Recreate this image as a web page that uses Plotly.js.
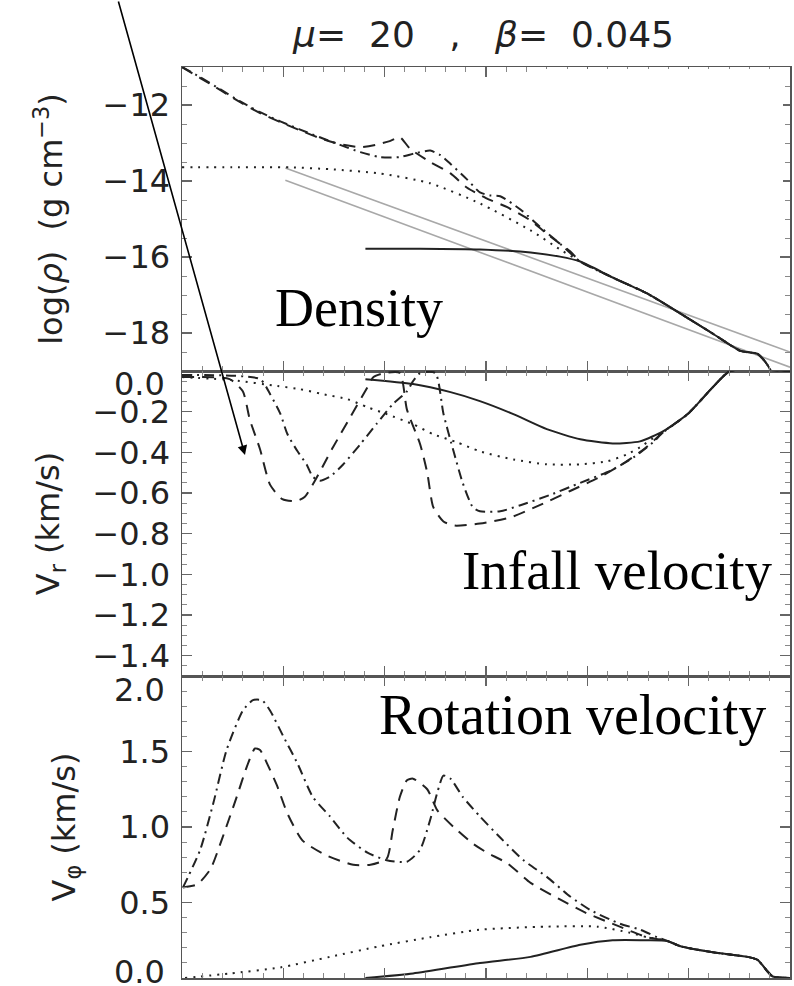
<!DOCTYPE html>
<html>
<head>
<meta charset="utf-8">
<script src="https://cdn.plot.ly/plotly-3.0.1.min.js"></script>
<style>html,body{margin:0;padding:0;background:#fff;}</style>
</head>
<body>
<div id="chart" style="width:794px;height:986px;"></div>
<script>
// ---- Panel 1: density log(rho) ----
const rhoDashX = [0, 0.18, 0.38, 0.57, 0.77, 0.97, 1.16, 1.36, 1.56, 1.76, 1.91, 2.05, 2.15, 2.25, 2.45, 2.65, 2.81, 3.00, 3.21, 3.44, 3.63, 3.83, 3.93, 4.25, 4.59, 4.92, 5.24, 5.51, 5.68, 5.77, 5.82];
const rhoDashY = [-11.0, -11.29, -11.61, -11.92, -12.21, -12.45, -12.66, -12.87, -13.03, -13.11, -13.05, -12.95, -12.85, -13.15, -13.50, -13.80, -14.17, -14.45, -14.69, -15.04, -15.45, -15.85, -16.12, -16.54, -16.96, -17.49, -18.02, -18.47, -18.55, -18.81, -19.05];
const rhoDashDotX = [0, 0.18, 0.38, 0.57, 0.77, 0.97, 1.16, 1.36, 1.56, 1.76, 1.95, 2.15, 2.30, 2.45, 2.55, 2.65, 2.81, 2.94, 3.04, 3.14, 3.34, 3.53, 3.73, 3.93, 4.25, 4.59, 4.92, 5.24, 5.51, 5.68, 5.77, 5.82];
const rhoDashDotY = [-11.0, -11.27, -11.59, -11.90, -12.19, -12.43, -12.64, -12.85, -13.05, -13.24, -13.37, -13.37, -13.27, -13.20, -13.32, -13.55, -13.95, -14.30, -14.38, -14.40, -14.75, -15.20, -15.65, -16.12, -16.54, -16.96, -17.49, -18.02, -18.47, -18.55, -18.81, -19.05];
const rhoDotX = [0, 0.5, 1.07, 1.46, 1.95, 2.45, 2.94, 3.44, 3.73, 3.93, 4.25, 4.59, 4.92, 5.24, 5.51, 5.68, 5.77, 5.82];
const rhoDotY = [-13.64, -13.64, -13.64, -13.69, -13.80, -14.06, -14.59, -15.30, -15.80, -16.12, -16.54, -16.96, -17.49, -18.02, -18.47, -18.55, -18.81, -19.05];
const rhoSolidX = [1.81, 2.35, 2.94, 3.44, 3.73, 3.93, 4.25, 4.59, 4.92, 5.24, 5.51, 5.68, 5.77, 5.82];
const rhoSolidY = [-15.78, -15.78, -15.80, -15.88, -15.99, -16.12, -16.54, -16.96, -17.49, -18.02, -18.47, -18.55, -18.81, -19.05];
const plUpperX = [1.02, 6.0];
const plUpperY = [-13.66, -18.50];
const plLowerX = [1.02, 6.0];
const plLowerY = [-13.98, -18.90];

// ---- Panel 2: infall velocity V_r ----
const vrDashX = [0, 0.47, 0.60, 0.67, 0.77, 0.87, 0.99, 1.12, 1.21, 1.49, 1.66, 1.83, 1.89, 2.00, 2.15, 2.22, 2.35, 2.42, 2.48, 2.58, 2.69, 2.94, 3.24, 3.53, 3.83, 4.13, 4.37, 4.57, 4.75, 4.99, 5.24, 5.41, 6.0];
const vrDashY = [-0.03, -0.04, -0.10, -0.24, -0.385, -0.56, -0.63, -0.64, -0.62, -0.375, -0.227, -0.08, -0.03, -0.01, -0.01, -0.19, -0.36, -0.50, -0.67, -0.74, -0.76, -0.75, -0.72, -0.66, -0.59, -0.52, -0.45, -0.38, -0.30, -0.212, -0.079, 0, 0];
const vrDashDotX = [0, 0.77, 0.87, 0.97, 1.04, 1.14, 1.23, 1.29, 1.36, 1.46, 1.59, 1.76, 1.92, 2.08, 2.22, 2.28, 2.35, 2.50, 2.58, 2.68, 2.77, 2.87, 2.94, 3.14, 3.34, 3.63, 3.93, 4.23, 4.47, 4.65, 4.75, 4.99, 5.24, 5.41, 6.0];
const vrDashDotY = [-0.02, -0.04, -0.114, -0.21, -0.31, -0.395, -0.46, -0.52, -0.54, -0.52, -0.46, -0.36, -0.26, -0.163, -0.10, -0.05, -0.01, -0.01, -0.21, -0.395, -0.55, -0.67, -0.69, -0.69, -0.66, -0.61, -0.55, -0.49, -0.42, -0.35, -0.30, -0.212, -0.079, 0, 0];
const vrDotX = [0, 0.5, 0.94, 1.16, 1.39, 1.63, 1.83, 2.02, 2.28, 2.48, 2.71, 2.94, 3.27, 3.60, 3.93, 4.20, 4.39, 4.52, 4.65, 4.75, 4.99, 5.24, 5.41, 6.0];
const vrDotY = [-0.03, -0.045, -0.074, -0.089, -0.114, -0.138, -0.178, -0.212, -0.262, -0.311, -0.35, -0.395, -0.435, -0.459, -0.459, -0.444, -0.41, -0.375, -0.33, -0.30, -0.212, -0.079, 0, 0];
const vrSolidX = [1.81, 2.28, 2.65, 2.94, 3.27, 3.60, 3.93, 4.25, 4.52, 4.75, 4.99, 5.24, 5.41, 6.0];
const vrSolidY = [-0.04, -0.064, -0.104, -0.148, -0.212, -0.286, -0.336, -0.356, -0.346, -0.296, -0.212, -0.079, 0, 0];

// ---- Panel 3: rotation velocity V_phi ----
const vpDashDotX = [0.01, 0.18, 0.31, 0.44, 0.60, 0.70, 0.79, 0.87, 1.00, 1.14, 1.29, 1.46, 1.63, 1.83, 2.02, 2.22, 2.35, 2.45, 2.52, 2.58, 2.65, 2.77, 2.94, 3.14, 3.37, 3.60, 3.83, 4.03, 4.32, 4.52, 4.69, 4.79, 4.92, 5.24, 5.58, 5.68, 5.77, 5.83, 6.0];
const vpDashDotY = [0.60, 0.85, 1.16, 1.51, 1.77, 1.84, 1.84, 1.77, 1.60, 1.42, 1.20, 1.07, 0.93, 0.83, 0.78, 0.77, 0.85, 1.05, 1.23, 1.34, 1.32, 1.20, 1.07, 0.93, 0.78, 0.67, 0.54, 0.45, 0.36, 0.32, 0.27, 0.245, 0.21, 0.17, 0.14, 0.12, 0.05, 0.01, 0.0];
const vpDashX = [0.01, 0.15, 0.28, 0.40, 0.54, 0.64, 0.72, 0.77, 0.84, 0.94, 1.04, 1.19, 1.43, 1.69, 1.86, 2.02, 2.08, 2.15, 2.22, 2.28, 2.42, 2.52, 2.68, 2.87, 3.01, 3.21, 3.44, 3.73, 3.99, 4.32, 4.59, 4.79, 4.92, 5.24, 5.58, 5.68, 5.77, 5.83, 6.0];
const vpDashY = [0.60, 0.62, 0.72, 0.93, 1.20, 1.40, 1.52, 1.51, 1.42, 1.27, 1.09, 0.91, 0.81, 0.75, 0.75, 0.79, 0.98, 1.20, 1.31, 1.32, 1.25, 1.11, 1.00, 0.89, 0.83, 0.76, 0.63, 0.52, 0.43, 0.34, 0.27, 0.245, 0.21, 0.17, 0.14, 0.12, 0.05, 0.01, 0.0];
const vpDotX = [0.03, 0.47, 0.97, 1.46, 1.95, 2.45, 2.94, 3.60, 4.10, 4.42, 4.59, 4.79, 4.92, 5.24, 5.58, 5.68, 5.77, 5.83, 6.0];
const vpDotY = [0.0, 0.03, 0.07, 0.14, 0.21, 0.27, 0.32, 0.34, 0.34, 0.30, 0.27, 0.245, 0.21, 0.17, 0.14, 0.12, 0.05, 0.01, 0.0];
const vpSolidX = [1.81, 2.28, 2.94, 3.44, 3.93, 4.25, 4.59, 4.79, 4.92, 5.24, 5.58, 5.68, 5.77, 5.83, 6.0];
const vpSolidY = [0.0, 0.03, 0.10, 0.14, 0.22, 0.25, 0.25, 0.245, 0.21, 0.17, 0.14, 0.12, 0.05, 0.01, 0.0];

// tick values and labels (end labels are nudged inward, as in the original)
const rhoTicks = [-12, -14, -16, -18];
const vrTicks = [0, -0.2, -0.4, -0.6, -0.8, -1.0, -1.2, -1.4];
const vrTickText = ['', '−0.2', '−0.4', '−0.6', '−0.8', '−1.0', '−1.2', '−1.4'];
const vpTicks = [0, 0.5, 1.0, 1.5, 2.0];
const vpTickText = ['', '0.5', '1.0', '1.5', ''];
const endLabels = ['0.0', '2.0', '0.0'];

const titleText = '<i>μ</i>=&nbsp;&nbsp;20&nbsp;&nbsp;&nbsp;,&nbsp;&nbsp;&nbsp;<i>β</i>=&nbsp;&nbsp;0.045';
const yTitles = ['log(<i>ρ</i>)&nbsp;&nbsp;(g cm<sup>−3</sup>)', 'V<sub>r</sub> (km/s)', 'V<sub>φ</sub> (km/s)'];
const panelLabels = ['Density', 'Infall velocity', 'Rotation velocity'];

const INK = '#222';
const DASH = '12px,8px';
const DASHDOT = '10px,5px,2px,5px';
const DOT = '2px,6px';

function tr(x, y, ax, dash, color, width) {
  return {x: x, y: y, xaxis: 'x' + ax, yaxis: 'y' + ax, type: 'scatter', mode: 'lines',
          line: {color: color || INK, width: width || 2, dash: dash, shape: 'spline', smoothing: 0.6},
          hoverinfo: 'skip', showlegend: false};
}

const traces = [
  tr(plUpperX, plUpperY, '', 'solid', '#a8a8a8', 1.6),
  tr(plLowerX, plLowerY, '', 'solid', '#a8a8a8', 1.6),
  tr(rhoDotX, rhoDotY, '', DOT),
  tr(rhoDashX, rhoDashY, '', DASH),
  tr(rhoDashDotX, rhoDashDotY, '', DASHDOT),
  tr(rhoSolidX, rhoSolidY, '', 'solid'),
  tr(vrDotX, vrDotY, '2', DOT),
  tr(vrDashX, vrDashY, '2', DASH),
  tr(vrDashDotX, vrDashDotY, '2', DASHDOT),
  tr(vrSolidX, vrSolidY, '2', 'solid'),
  tr(vpDotX, vpDotY, '3', DOT),
  tr(vpDashX, vpDashY, '3', DASH),
  tr(vpDashDotX, vpDashDotY, '3', DASHDOT),
  tr(vpSolidX, vpSolidY, '3', 'solid')
];

const tickFont = {family: 'DejaVu Sans', size: 32, color: INK};
const titleFont = {family: 'DejaVu Sans', size: 32, color: INK};

function xax(anchor) {
  return {anchor: anchor, domain: [0, 1], range: [0, 6], tick0: 0, dtick: 1,
          showticklabels: false, showline: true, mirror: 'allticks', linecolor: '#555', linewidth: 1.5,
          ticks: 'inside', ticklen: 10, tickwidth: 1.2, tickcolor: '#666', showgrid: false, zeroline: false,
          minor: {ticks: 'inside', ticklen: 5, tickwidth: 1, tickcolor: '#888', dtick: 0.2, tick0: 0, showgrid: false}};
}
function yax(anchor, domain, range, vals, text, minorDtick, title, standoff) {
  const a = {anchor: anchor, domain: domain, range: range, tickmode: 'array', tickvals: vals,
          showline: true, mirror: 'allticks', linecolor: '#555', linewidth: 1.5,
          ticks: 'inside', ticklen: 10, tickwidth: 1.2, tickcolor: '#666', showgrid: false, zeroline: false,
          tickfont: tickFont, ticklabelstandoff: 4, ticklabeloverflow: 'allow',
          minor: {ticks: 'inside', ticklen: 5, tickwidth: 1, tickcolor: '#888', dtick: minorDtick, tick0: 0, showgrid: false},
          title: {text: title, font: titleFont, standoff: standoff}};
  if (text) a.ticktext = text;
  return a;
}

function endLabel(txt, py) {
  return {text: txt, xref: 'paper', yref: 'paper', x: (167 - 182) / 608, y: (978 - py) / 911,
          xanchor: 'right', yanchor: 'middle', showarrow: false, font: tickFont};
}

const layout = {
  width: 794, height: 986,
  margin: {l: 182, r: 4, t: 67, b: 8},
  paper_bgcolor: '#fff', plot_bgcolor: '#fff',
  showlegend: false,
  title: {text: titleText, font: {family: 'DejaVu Sans', size: 36, color: INK},
          x: 0.609, xanchor: 'center', xref: 'container', y: 0.965, yanchor: 'middle', yref: 'container'},
  xaxis: xax('y'),
  xaxis2: xax('y2'),
  xaxis3: xax('y3'),
  yaxis: yax('x', [0.6663, 1], [-19, -11], rhoTicks, null, 0.5, yTitles[0], 30),
  yaxis2: yax('x2', [0.3315, 0.6663], [-1.5, 0], vrTicks, vrTickText, 0.05, yTitles[1], 23),
  yaxis3: yax('x3', [0, 0.3315], [0, 2.0], vpTicks, vpTickText, 0.1, yTitles[2], 34),
  shapes: [
    {type: 'rect', xref: 'paper', yref: 'paper', x0: 0.5674, x1: 0.9885, y0: 0.8375, y1: 0.9978,
     fillcolor: '#fff', line: {width: 0}, layer: 'above'}
  ],
  annotations: [
    endLabel(endLabels[0], 384),
    endLabel(endLabels[1], 690),
    endLabel(endLabels[2], 972),
    {text: panelLabels[0], xref: 'paper', yref: 'paper', x: 0.291, y: 0.735, xanchor: 'center', yanchor: 'middle',
     showarrow: false, font: {family: 'Liberation Serif', size: 54, color: '#000'}},
    {text: panelLabels[1], xref: 'paper', yref: 'paper', x: 0.7155, y: 0.447, xanchor: 'center', yanchor: 'middle',
     showarrow: false, font: {family: 'Liberation Serif', size: 55, color: '#000'}},
    {text: panelLabels[2], xref: 'paper', yref: 'paper', x: 0.643, y: 0.289, xanchor: 'center', yanchor: 'middle',
     showarrow: false, font: {family: 'Liberation Serif', size: 56, color: '#000'}},
    {text: '', xref: 'paper', yref: 'paper', x: 0.1036, y: 0.574, ax: -127, ay: -460,
     showarrow: true, arrowhead: 2, arrowsize: 1.2, arrowwidth: 1.6, arrowcolor: '#000', standoff: 0}
  ]
};

Plotly.newPlot('chart', traces, layout, {displayModeBar: false, staticPlot: true});
</script>
</body>
</html>
